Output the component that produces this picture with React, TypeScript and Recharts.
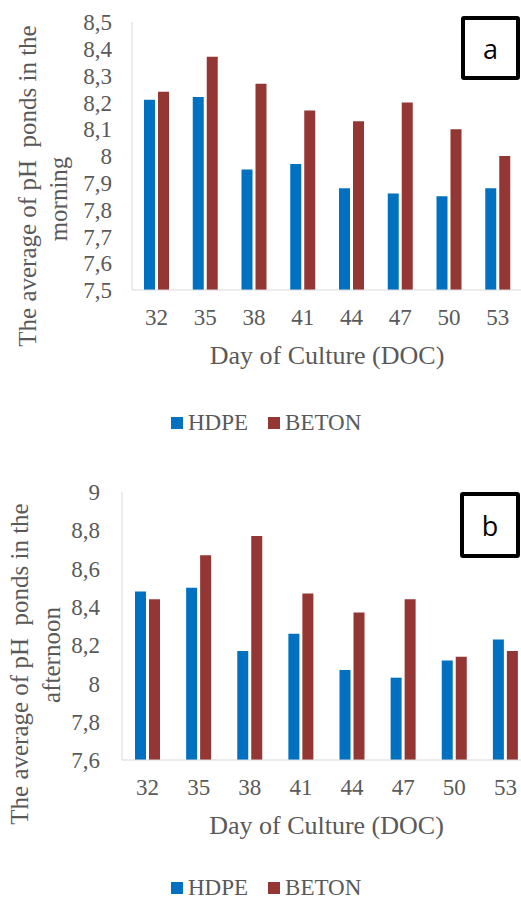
import { BarChart, Bar, XAxis, YAxis, Legend } from 'recharts';

const days = ['32', '35', '38', '41', '44', '47', '50', '53'];
const morningHdpe = [8.21, 8.22, 7.95, 7.97, 7.88, 7.86, 7.85, 7.88];
const morningBeton = [8.24, 8.37, 8.27, 8.17, 8.13, 8.2, 8.1, 8.0];
const afternoonHdpe = [8.48, 8.5, 8.17, 8.26, 8.07, 8.03, 8.12, 8.23];
const afternoonBeton = [8.44, 8.67, 8.77, 8.47, 8.37, 8.44, 8.14, 8.17];
const morningTicks = [7.5, 7.6, 7.7, 7.8, 7.9, 8, 8.1, 8.2, 8.3, 8.4, 8.5];
const afternoonTicks = [7.6, 7.8, 8, 8.2, 8.4, 8.6, 8.8, 9];
const seriesOrder = ['HDPE', 'BETON'];

const HDPE_COLOR = '#0070C0';
const BETON_COLOR = '#943634';
const TEXT = '#595959';
const SERIF =
  "'Liberation Serif', 'Times New Roman', Times, Tinos, 'Noto Serif', 'DejaVu Serif', FreeSerif, serif";

const morningData = days.map((day, i) => ({ day, hdpe: morningHdpe[i], beton: morningBeton[i] }));
const afternoonData = days.map((day, i) => ({ day, hdpe: afternoonHdpe[i], beton: afternoonBeton[i] }));

const fmt = (v: number) => String(v).replace('.', ',');

function LegendRow({ payload }: any) {
  const items = [...(payload || [])].sort(
    (a: any, b: any) => seriesOrder.indexOf(a.value) - seriesOrder.indexOf(b.value)
  );
  return (
    <div style={{ display: 'flex', alignItems: 'center', fontFamily: SERIF, fontSize: 23, color: TEXT, lineHeight: '22px' }}>
      {items.map((p: any, i: number) => (
        <div key={i} style={{ display: 'flex', alignItems: 'center', marginRight: 20 }}>
          <span style={{ display: 'inline-block', width: 12, height: 12, background: p.color, marginRight: 5 }} />
          <span>{p.value}</span>
        </div>
      ))}
    </div>
  );
}

function YTitle({ lines, x1, x2, cy1, cy2 }: { lines: string[]; x1: number; x2: number; cy1: number; cy2: number }) {
  return (
    <g fill={TEXT} fontFamily={SERIF} fontSize={25}>
      <text x={x1} y={cy1} textAnchor="middle" transform={`rotate(-90 ${x1} ${cy1})`} xmlSpace="preserve">
        {lines[0]}
      </text>
      <text x={x2} y={cy2} textAnchor="middle" transform={`rotate(-90 ${x2} ${cy2})`}>
        {lines[1]}
      </text>
    </g>
  );
}

function XTitle({ viewBox }: any) {
  const cx = viewBox.x + viewBox.width / 2;
  const y = viewBox.y + 74;
  return (
    <text x={cx} y={y} textAnchor="middle" fill={TEXT} fontFamily={SERIF} fontSize={26}>
      Day of Culture (DOC)
    </text>
  );
}

function LetterBox({ letter, left, top, w, h }: { letter: string; left: number; top: number; w: number; h: number }) {
  return (
    <div
      style={{
        position: 'absolute',
        left,
        top,
        width: w,
        height: h,
        boxSizing: 'border-box',
        border: '4px solid #000',
        borderRadius: 3,
        background: '#fff',
        display: 'flex',
        alignItems: 'center',
        justifyContent: 'center',
        fontFamily: '"Open Sans", "Noto Sans", sans-serif',
        fontSize: 27,
        color: '#000',
      }}
    >
      {letter}
    </div>
  );
}

function PhChart({
  data,
  ticks,
  domain,
  yWidth,
  rightMargin,
  height,
  bottomMargin,
  legendTop,
  titleLines,
  titleX,
  titleY,
}: any) {
  return (
    <BarChart
      width={540}
      height={height}
      data={data}
      margin={{ top: 22, right: rightMargin, left: 0, bottom: bottomMargin }}
      barGap={3}
      barSize={11}
      style={{ fontFamily: SERIF }}
    >
      <XAxis
        dataKey="day"
        height={80}
        axisLine={{ stroke: '#d9d9d9' }}
        tickLine={false}
        tickSize={0}
        tickMargin={19}
        tick={{ fill: TEXT, fontSize: 23, fontFamily: SERIF }}
        label={{ content: (props: any) => <XTitle {...props} /> }}
      />
      <YAxis
        domain={domain}
        ticks={ticks}
        interval={0}
        width={yWidth}
        axisLine={{ stroke: '#d9d9d9' }}
        tickLine={false}
        tickSize={0}
        tickMargin={yWidth === 132 ? 20 : 22}
        tickFormatter={fmt}
        tick={{ fill: TEXT, fontSize: 23, fontFamily: SERIF }}
        label={{
          content: () => (
            <YTitle lines={titleLines} x1={titleX[0]} x2={titleX[1]} cy1={titleY[0]} cy2={titleY[1]} />
          ),
        }}
      />
      <Legend
        verticalAlign="middle"
        align="center"
        layout="horizontal"
        content={(props: any) => <LegendRow {...props} />}
        wrapperStyle={{ left: 171, top: legendTop, width: 300 }}
      />
      <Bar dataKey="hdpe" name="HDPE" fill={HDPE_COLOR} isAnimationActive={false} />
      <Bar dataKey="beton" name="BETON" fill={BETON_COLOR} isAnimationActive={false} />
    </BarChart>
  );
}

export default function App() {
  return (
    <div style={{ position: 'absolute', left: 0, top: 0, width: 521, height: 904, overflow: 'hidden', background: '#fff' }}>
      <div style={{ position: 'absolute', left: 0, top: 0 }}>
        <PhChart
          data={morningData}
          ticks={morningTicks}
          domain={[7.5, 8.5]}
          yWidth={132}
          rightMargin={18}
          height={470}
          bottomMargin={100}
          legendTop={412}
          titleLines={['The average of pH  ponds in the', 'morning']}
          titleX={[36, 67]}
          titleY={[186, 199]}
        />
      </div>
      <div style={{ position: 'absolute', left: 0, top: 470 }}>
        <PhChart
          data={afternoonData}
          ticks={afternoonTicks}
          domain={[7.6, 9]}
          yWidth={122}
          rightMargin={9}
          height={434}
          bottomMargin={64}
          legendTop={407}
          titleLines={['The average of pH  ponds in the', 'afternoon']}
          titleX={[28, 60]}
          titleY={[194, 185]}
        />
      </div>
      <LetterBox letter="a" left={461} top={16} w={59} h={64} />
      <LetterBox letter="b" left={460} top={492} w={60} h={66} />
    </div>
  );
}
